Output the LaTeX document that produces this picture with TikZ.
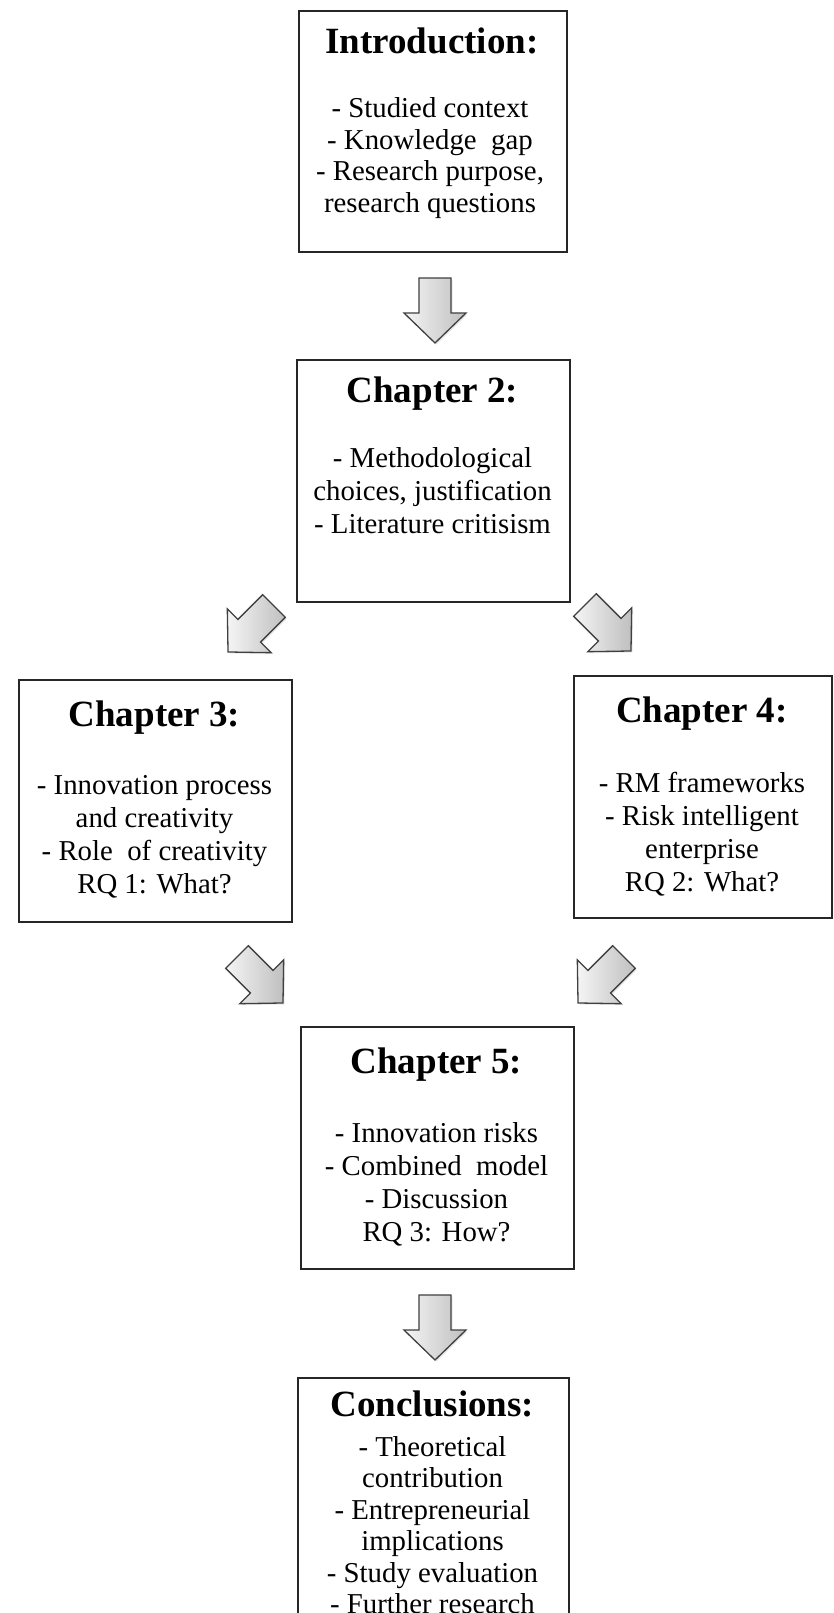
\documentclass[tikz,border=0pt]{standalone}
\usepackage{fontspec}
\setmainfont{Liberation Serif}
\usetikzlibrary{shadows}
\begin{document}
\begin{tikzpicture}[x=1pt,y=-1pt,
  box/.style={draw=black!85, line width=1.6pt, fill=white, inner sep=0pt,
    anchor=north west},
  boxtitle/.style={font=\fontsize{37}{40}\selectfont\bfseries, anchor=base,
    inner sep=0pt},
  boxbody/.style={font=\fontsize{28.8}{33}\selectfont, align=center,
    inner sep=0pt},
  blockarrow/.style={draw=black!75, line width=1.3pt, line join=miter,
    left color=gray!8, right color=gray!50,
    drop shadow={opacity=0.18, shadow xshift=1.5pt, shadow yshift=-1.5pt}},
]
\path[use as bounding box] (0,0) rectangle (833,1613);
\clip (0,0) rectangle (833,1613);
\fill[white] (0,0) rectangle (833,1613);

% block arrow pointing along the local +x axis, centred on the origin
\def\blockarrowpath{(-32.5,-16) -- (2.5,-16) -- (2.5,-31) -- (32.5,0)
  -- (2.5,31) -- (2.5,16) -- (-32.5,16) -- cycle}

% boxes
\node[box, minimum width=268pt, minimum height=241pt] (intro) at (298,10) {};
\node[box, minimum width=273pt, minimum height=242pt] (ch2) at (296,359) {};
\node[box, minimum width=273pt, minimum height=242pt] (ch3) at (18,679) {};
\node[box, minimum width=258pt, minimum height=242pt] (ch4) at (573,675) {};
\node[box, minimum width=273pt, minimum height=242pt] (ch5) at (300,1026) {};
\node[box, minimum width=271pt, minimum height=280pt] (concl) at (297,1377) {};

% titles
\node[boxtitle] (introT) at (432,54) {Introduction:};
\node[boxtitle] (ch2T) at (432.5,402) {Chapter 2:};
\node[boxtitle] (ch3T) at (154.5,726) {Chapter 3:};
\node[boxtitle] (ch4T) at (702,722) {Chapter 4:};
\node[boxtitle] (ch5T) at (436.5,1073) {Chapter 5:};
\node[boxtitle] (conclT) at (432.5,1416) {Conclusions:};

% body texts
\node[boxbody, font=\fontsize{28.8}{31.7}\selectfont] (introB) at (430,158)
  {- Studied context\\- Knowledge\ \ gap\\- Research purpose,\\research questions};
\node[boxbody, font=\fontsize{28.8}{33}\selectfont] (ch2B) at (432.5,491)
  {- Methodological\\choices, justification\\- Literature critisism};
\node[boxbody] (ch3B) at (154.5,837)
  {- Innovation process\\and creativity\\- Role\ \ of creativity\\RQ 1: What?};
\node[boxbody] (ch4B) at (702,834)
  {- RM frameworks\\- Risk intelligent\\enterprise\\RQ 2: What?};
\node[boxbody] (ch5B) at (436.5,1184)
  {- Innovation risks\\- Combined\ \ model\\- Discussion\\RQ 3: How?};
\node[boxbody, font=\fontsize{28.8}{31.5}\selectfont, anchor=north] (conclB) at (432.5,1436)
  {- Theoretical\\contribution\\- Entrepreneurial\\implications\\- Study evaluation\\- Further research};

% block arrows between the boxes
\begin{scope}[shift={(435,310.5)}, rotate=-90]
  \path[blockarrow] \blockarrowpath;
\end{scope}
\begin{scope}[shift={(251,629)}, rotate=-135]
  \path[blockarrow] \blockarrowpath;
\end{scope}
\begin{scope}[shift={(608,628)}, rotate=-45]
  \path[blockarrow] \blockarrowpath;
\end{scope}
\begin{scope}[shift={(260,980)}, rotate=-45]
  \path[blockarrow] \blockarrowpath;
\end{scope}
\begin{scope}[shift={(601,980)}, rotate=-135]
  \path[blockarrow] \blockarrowpath;
\end{scope}
\begin{scope}[shift={(435,1327.5)}, rotate=-90]
  \path[blockarrow] \blockarrowpath;
\end{scope}
\end{tikzpicture}
\end{document}
